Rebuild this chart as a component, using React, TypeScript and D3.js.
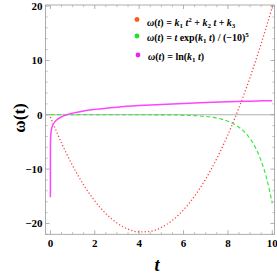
import React from "react";
import * as d3 from "d3";

// values
const quadT = [0, 0.5, 1, 1.5, 2, 2.5, 3, 3.5, 4, 4.5, 5, 5.5, 6, 6.5, 7, 7.5, 8, 8.5, 9, 9.5, 10, 10.15];
const quadW = [-0.4, -5.18, -9.35, -12.91, -15.86, -18.2, -19.93, -21.05, -21.56, -21.46, -20.75, -19.43, -17.5, -14.96, -11.81, -8.05, -3.68, 1.3, 6.89, 13.1, 19.9, 22.1];

const expT = [0, 1, 2, 3, 4, 5, 6, 6.5, 7, 7.25, 7.5, 7.75, 8, 8.25, 8.5, 8.75, 9, 9.25, 9.5, 9.75, 10];
const expW = [0, 0, 0, 0, -0.005, -0.02, -0.08, -0.16, -0.31, -0.44, -0.61, -0.85, -1.18, -1.64, -2.29, -3.18, -4.41, -6.12, -8.49, -11.76, -16.3];

const logT = [0, 0.002, 0.01, 0.03, 0.06, 0.1, 0.2, 0.35, 0.5, 0.75, 1, 1.5, 2, 3, 4, 5, 6, 7, 8, 9, 10];
const logW = [-15.2, -5.9, -4.3, -3.2, -2.5, -2.0, -1.31, -0.75, -0.39, 0.01, 0.3, 0.71, 0.99, 1.4, 1.69, 1.91, 2.09, 2.25, 2.38, 2.5, 2.6];

const xTicks = [0, 2, 4, 6, 8, 10];
const yTicks = [-20, -10, 0, 10, 20];

const W = 277;
const H = 276;
const left = 45.5, right = 274.5, top = 5, bottom = 234.3;

const font = "Liberation Serif";

export default function App() {
  const x = d3.scaleLinear().domain([-0.22, 10.1]).range([left, right]);
  const y = d3.scaleLinear().domain([-22, 20.2]).range([bottom, top]);

  const line = d3
    .line<[number, number]>()
    .x((d) => x(d[0]))
    .y((d) => y(d[1]))
    .curve(d3.curveMonotoneX);

  const zip = (a: number[], b: number[]) => a.map((t, i) => [t, b[i]] as [number, number]);

  const xMinor = d3.range(0, 10.01, 0.5).filter((v) => !xTicks.includes(v));
  const yMinor = d3.range(-22, 20.1, 2).filter((v) => !yTicks.includes(v));

  const axisColor = "#9a9a9a";

  return (
    <svg width={W} height={H} style={{ position: "absolute", left: 0, top: 0, background: "#fff" }}>
      <defs>
        <clipPath id="plot">
          <rect x={left} y={top} width={right - left} height={bottom - top} />
        </clipPath>
      </defs>

      {/* frame */}
      <rect x={left} y={top} width={right - left} height={bottom - top} fill="none" stroke={axisColor} strokeWidth={0.8} />
      <line x1={left} x2={right} y1={y(0)} y2={y(0)} stroke={axisColor} strokeWidth={0.8} />

      {/* x ticks */}
      {xTicks.map((v) => (
        <g key={"x" + v}>
          <line x1={x(v)} x2={x(v)} y1={bottom} y2={bottom - 4} stroke={axisColor} strokeWidth={0.8} />
          <line x1={x(v)} x2={x(v)} y1={top} y2={top + 4} stroke={axisColor} strokeWidth={0.8} />
          <text x={x(v)} y={bottom + 13} textAnchor="middle" fontFamily={font} fontWeight="bold" fontSize={11}>
            {v}
          </text>
        </g>
      ))}
      {xMinor.map((v) => (
        <g key={"xm" + v}>
          <line x1={x(v)} x2={x(v)} y1={bottom} y2={bottom - 2.2} stroke={axisColor} strokeWidth={0.6} />
          <line x1={x(v)} x2={x(v)} y1={top} y2={top + 2.2} stroke={axisColor} strokeWidth={0.6} />
        </g>
      ))}

      {/* y ticks */}
      {yTicks.map((v) => (
        <g key={"y" + v}>
          <line x1={left} x2={left + 4} y1={y(v)} y2={y(v)} stroke={axisColor} strokeWidth={0.8} />
          <line x1={right} x2={right - 4} y1={y(v)} y2={y(v)} stroke={axisColor} strokeWidth={0.8} />
          <text x={left - 3} y={y(v) + 3.8} textAnchor="end" fontFamily={font} fontWeight="bold" fontSize={11}>
            {v < 0 ? "\u2212" + Math.abs(v) : v}
          </text>
        </g>
      ))}
      {yMinor.map((v) => (
        <g key={"ym" + v}>
          <line x1={left} x2={left + 2.2} y1={y(v)} y2={y(v)} stroke={axisColor} strokeWidth={0.6} />
          <line x1={right} x2={right - 2.2} y1={y(v)} y2={y(v)} stroke={axisColor} strokeWidth={0.6} />
        </g>
      ))}

      {/* curves */}
      <g clipPath="url(#plot)">
        <path d={line(zip(expT, expW)) || ""} fill="none" stroke="#33e633" strokeWidth={1.1} strokeDasharray="4 2.5" />
        <path d={line(zip(quadT, quadW)) || ""} fill="none" stroke="#ff4040" strokeWidth={1.3} strokeDasharray="1.2 2.2" />
        <path d={line(zip(logT, logW)) || ""} fill="none" stroke="#ff44ff" strokeWidth={1.5} />
      </g>

      {/* legend */}
      <g fontFamily={font} fontSize={10} fontWeight="bold">
        <circle cx={137} cy={19.5} r={2.4} fill="#ff5a1a" />
        <text x={147} y={26}>
          <tspan fontStyle="italic">ω</tspan>(<tspan fontStyle="italic">t</tspan>) = <tspan fontStyle="italic">k</tspan>
          <tspan fontSize={7} dy={2}>1</tspan>
          <tspan dy={-2}> </tspan>
          <tspan fontStyle="italic">t</tspan>
          <tspan fontSize={7} dy={-4}>2</tspan>
          <tspan dy={4}> + </tspan>
          <tspan fontStyle="italic">k</tspan>
          <tspan fontSize={7} dy={2}>2</tspan>
          <tspan dy={-2}> </tspan>
          <tspan fontStyle="italic">t</tspan> + <tspan fontStyle="italic">k</tspan>
          <tspan fontSize={7} dy={2}>3</tspan>
        </text>

        <circle cx={137} cy={36} r={2.4} fill="#22e022" />
        <text x={147} y={40.5}>
          <tspan fontStyle="italic">ω</tspan>(<tspan fontStyle="italic">t</tspan>) = <tspan fontStyle="italic">t</tspan> exp(
          <tspan fontStyle="italic">k</tspan>
          <tspan fontSize={7} dy={2}>1</tspan>
          <tspan dy={-2}> </tspan>
          <tspan fontStyle="italic">t</tspan>) / (−10)
          <tspan fontSize={7} dy={-4}>5</tspan>
        </text>

        <circle cx={138} cy={55} r={2.4} fill="#ee22ee" />
        <text x={148} y={60}>
          <tspan fontStyle="italic">ω</tspan>(<tspan fontStyle="italic">t</tspan>) = ln(<tspan fontStyle="italic">k</tspan>
          <tspan fontSize={7} dy={2}>1</tspan>
          <tspan dy={-2}> </tspan>
          <tspan fontStyle="italic">t</tspan>)
        </text>
      </g>

      {/* axis titles */}
      <text
        transform={`translate(25,${118}) rotate(-90)`}
        textAnchor="middle"
        fontFamily={font}
        fontWeight="bold"
        fontSize={17}
      >
        ω(t)
      </text>
      <text x={157} y={271} textAnchor="middle" fontFamily={font} fontWeight="bold" fontStyle="italic" fontSize={18}>
        t
      </text>
    </svg>
  );
}
